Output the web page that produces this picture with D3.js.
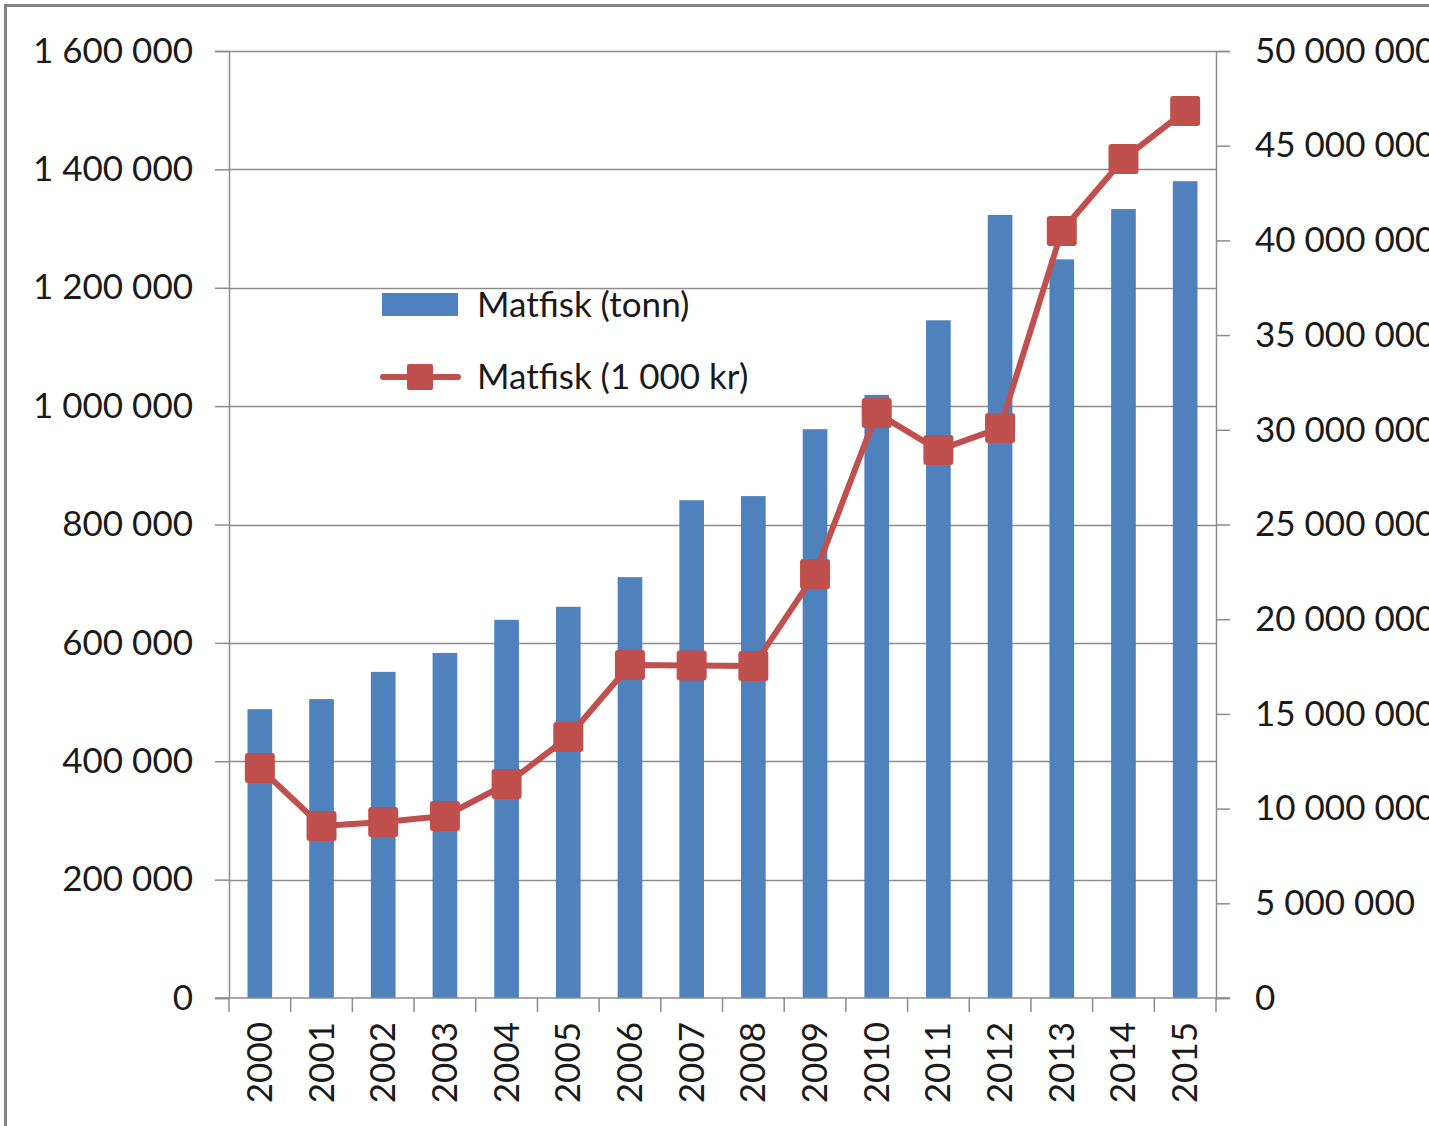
<!DOCTYPE html>
<html>
<head>
<meta charset="utf-8">
<script src="https://cdn.jsdelivr.net/npm/d3@7"></script>
<style>
  body { margin: 0; background: #fff; }
  svg { display: block; font-family: Lato, "Open Sans", sans-serif; }
</style>
</head>
<body>
<div id="chart"></div>
<script>
// Data
var years = ["2000", "2001", "2002", "2003", "2004", "2005", "2006", "2007",
             "2008", "2009", "2010", "2011", "2012", "2013", "2014", "2015"];
var tonn = [488000, 505000, 551000, 583000, 639000, 661000, 711000, 841000,
            848000, 961000, 1019000, 1145000, 1323000, 1248000, 1333000, 1380000];
var kroner = [12140000, 9080000, 9290000, 9610000, 11300000, 13780000, 17580000, 17560000,
              17530000, 22390000, 30890000, 28930000, 30100000, 40500000, 44300000, 46830000];
var leftTicks = [0, 200000, 400000, 600000, 800000, 1000000, 1200000, 1400000, 1600000];
var rightTicks = [0, 5000000, 10000000, 15000000, 20000000, 25000000, 30000000, 35000000,
                  40000000, 45000000, 50000000];

var width = 1429;
var height = 1126;
var plot = { left: 229, right: 1216, top: 51, bottom: 998 };

var barColor = "#4f81bd";
var lineColor = "#c0504d";
var gridColor = "#8c8c8c";
var textColor = "#1a1a1a";
var fontSize = "35px";

// Thousands separated by a space, as in the Norwegian original
function fmt(v) {
    return d3.format(",")(v).replace(/,/g, " ");
}

var svg = d3.select("#chart")
    .append("svg")
    .attr("width", width)
    .attr("height", height);

// Outer frame
svg.append("path")
    .attr("d", "M5.5," + height + "V5.5H" + width)
    .attr("fill", "none")
    .attr("stroke", "#858585")
    .attr("stroke-width", 3);

var x = d3.scaleBand()
    .domain(years)
    .range([plot.left, plot.right])
    .paddingInner(0.6)
    .paddingOuter(0.3);

var xOuter = d3.scaleBand()
    .domain(years)
    .range([plot.left, plot.right]);

var yLeft = d3.scaleLinear()
    .domain([0, 1600000])
    .range([plot.bottom, plot.top]);

var yRight = d3.scaleLinear()
    .domain([0, 50000000])
    .range([plot.bottom, plot.top]);

// Gridlines
svg.append("g")
    .selectAll("line")
    .data(leftTicks.slice(1))
    .enter()
    .append("line")
    .attr("x1", plot.left)
    .attr("x2", plot.right)
    .attr("y1", function (d) { return Math.round(yLeft(d)) + 0.5; })
    .attr("y2", function (d) { return Math.round(yLeft(d)) + 0.5; })
    .attr("stroke", gridColor)
    .attr("stroke-width", 1.5);

// Left axis
var leftAxis = svg.append("g")
    .attr("transform", "translate(" + plot.left + ",0)")
    .call(d3.axisLeft(yLeft).tickValues(leftTicks).tickSize(14).tickPadding(22).tickFormat(fmt));

// Right axis
var rightAxis = svg.append("g")
    .attr("transform", "translate(" + plot.right + ",0)")
    .call(d3.axisRight(yRight).tickValues(rightTicks).tickSize(14).tickPadding(25).tickFormat(fmt));

[leftAxis, rightAxis].forEach(function (ax) {
    ax.select(".domain").attr("stroke", gridColor).attr("stroke-width", 1.5);
    ax.selectAll(".tick line").attr("stroke", gridColor).attr("stroke-width", 1.5);
    ax.selectAll("text")
        .attr("fill", textColor)
        .style("font-size", fontSize)
        .style("font-family", "Lato, sans-serif");
});

// Bars
svg.append("g")
    .selectAll("rect")
    .data(tonn)
    .enter()
    .append("rect")
    .attr("x", function (d, i) { return x(years[i]); })
    .attr("y", function (d) { return yLeft(d); })
    .attr("width", x.bandwidth())
    .attr("height", function (d) { return plot.bottom - yLeft(d); })
    .attr("fill", barColor);

// Bottom axis
var bottomAxis = svg.append("g")
    .attr("transform", "translate(0," + plot.bottom + ")");

bottomAxis.append("line")
    .attr("x1", plot.left - 14)
    .attr("x2", plot.right + 14)
    .attr("stroke", gridColor)
    .attr("stroke-width", 1.5);

var boundaries = years.map(function (y) { return xOuter(y); }).concat([plot.right]);
bottomAxis.selectAll("line.tick")
    .data(boundaries)
    .enter()
    .append("line")
    .attr("class", "tick")
    .attr("x1", function (d) { return d; })
    .attr("x2", function (d) { return d; })
    .attr("y1", 0)
    .attr("y2", 14)
    .attr("stroke", gridColor)
    .attr("stroke-width", 1.5);

bottomAxis.selectAll("text")
    .data(years)
    .enter()
    .append("text")
    .attr("transform", function (d) {
        return "translate(" + (xOuter(d) + xOuter.bandwidth() / 2 + 12) + ",24) rotate(-90)";
    })
    .attr("text-anchor", "end")
    .attr("fill", textColor)
    .style("font-size", fontSize)
    .text(function (d) { return d; });

// Line series on the right axis
var cx = function (d, i) { return xOuter(years[i]) + xOuter.bandwidth() / 2; };

var line = d3.line()
    .x(cx)
    .y(function (d) { return yRight(d); });

svg.append("path")
    .datum(kroner)
    .attr("d", line)
    .attr("fill", "none")
    .attr("stroke", lineColor)
    .attr("stroke-width", 6)
    .attr("stroke-linejoin", "round");

var m = 30;
svg.append("g")
    .selectAll("rect")
    .data(kroner)
    .enter()
    .append("rect")
    .attr("x", function (d, i) { return cx(d, i) - m / 2; })
    .attr("y", function (d) { return yRight(d) - m / 2; })
    .attr("width", m)
    .attr("height", m)
    .attr("rx", 3)
    .attr("fill", lineColor);

// Legend
var legend = svg.append("g");

legend.append("rect")
    .attr("x", 382)
    .attr("y", 293)
    .attr("width", 76)
    .attr("height", 23)
    .attr("fill", barColor);

legend.append("text")
    .attr("x", 477)
    .attr("y", 317)
    .attr("fill", textColor)
    .style("font-size", fontSize)
    .text("Matfisk (tonn)");

legend.append("line")
    .attr("x1", 383)
    .attr("x2", 458)
    .attr("y1", 377)
    .attr("y2", 377)
    .attr("stroke", lineColor)
    .attr("stroke-width", 6)
    .attr("stroke-linecap", "round");

legend.append("rect")
    .attr("x", 407)
    .attr("y", 364)
    .attr("width", 26)
    .attr("height", 26)
    .attr("rx", 2)
    .attr("fill", lineColor);

legend.append("text")
    .attr("x", 477)
    .attr("y", 389)
    .attr("fill", textColor)
    .style("font-size", fontSize)
    .text("Matfisk (1 000 kr)");
</script>
</body>
</html>
